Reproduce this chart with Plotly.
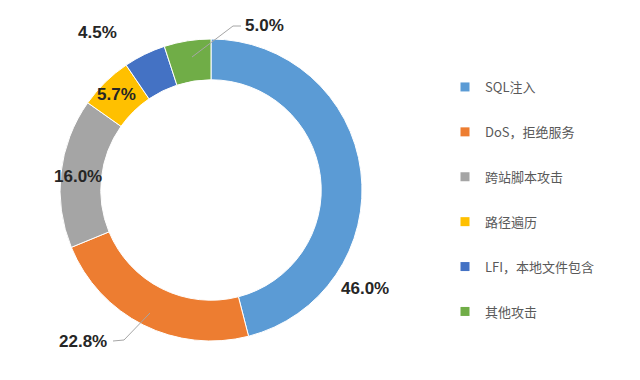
import plotly.graph_objects as go

categories = ["SQL注入", "DoS，拒绝服务", "跨站脚本攻击", "路径遍历", "LFI，本地文件包含", "其他攻击"]
values = [46.0, 22.8, 16.0, 5.7, 4.5, 5.0]
colors = ["#5B9BD5", "#ED7D31", "#A5A5A5", "#FFC000", "#4472C4", "#70AD47"]

W, H = 640, 380
OFF = 8  # page offset of the plot in the browser window

def px(x, y):
    return (x - OFF) / W, 1 - (y - OFF) / H

# label centre positions (pixels) for each slice's value label
label_pos = [(365, 288), (83, 341), (78, 177), (116, 95), (97, 33), (264, 25)]

x0d, y1d = px(60, 38)
x1d, y0d = px(362, 342)

fig = go.Figure()
fig.add_trace(go.Pie(
    labels=categories, values=values, sort=False, direction="clockwise", rotation=0,
    hole=0.73, textinfo="none", showlegend=False,
    marker=dict(colors=colors, line=dict(color="white", width=1)),
    domain=dict(x=[x0d, x1d], y=[y0d, y1d]),
))

# legend entries
for i, (c, col) in enumerate(zip(categories, colors)):
    fig.add_trace(go.Scatter(
        x=[None], y=[None], mode="markers", name=c, legendgroup=f"g{i}",
        marker=dict(symbol="square", size=9, color=col), showlegend=True,
    ))

annotations = []
for v, (x, y) in zip(values, label_pos):
    ax, ay = px(x, y)
    annotations.append(dict(
        x=ax, y=ay, xref="paper", yref="paper", text=f"{v:.1f}%", showarrow=False,
        xanchor="center", yanchor="middle",
        font=dict(family="Liberation Sans", size=17, color="#262626", weight="bold"),
    ))

leaders = [
    [(192, 57), (233, 26), (241, 26)],
    [(150, 313), (124, 340), (113, 341)],
]
shapes = []
for pts in leaders:
    for (xa, ya), (xb, yb) in zip(pts[:-1], pts[1:]):
        a0, b0 = px(xa, ya)
        a1, b1 = px(xb, yb)
        shapes.append(dict(type="line", xref="paper", yref="paper", x0=a0, y0=b0, x1=a1, y1=b1,
                           line=dict(color="#A6A6A6", width=1)))

lx, ly = px(445, 72)
fig.update_layout(
    width=W, height=H, margin=dict(l=0, r=0, t=0, b=0),
    paper_bgcolor="white", plot_bgcolor="white",
    xaxis=dict(visible=False), yaxis=dict(visible=False),
    annotations=annotations, shapes=shapes,
    legend=dict(x=lx, y=ly, xanchor="left", yanchor="top",
                tracegroupgap=25, itemclick=False,
                font=dict(family="Noto Sans CJK SC", size=13, color="#595959"),
                bgcolor="rgba(0,0,0,0)"),
    showlegend=True,
)

fig.write_html("out.html")
